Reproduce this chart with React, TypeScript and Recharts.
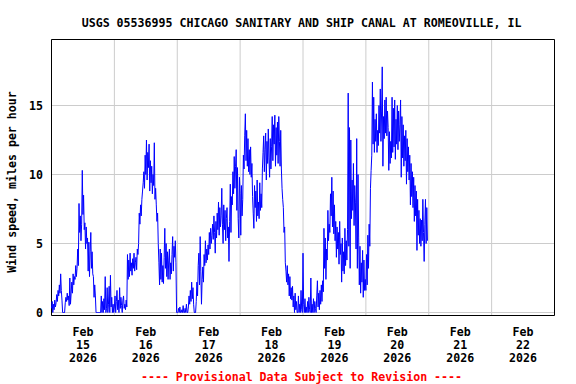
import { CartesianGrid, Line, LineChart, ReferenceArea, XAxis, YAxis } from "recharts";

const TITLE = "USGS 05536995 CHICAGO SANITARY AND SHIP CANAL AT ROMEOVILLE, IL";
const Y_LABEL = "Wind speed, miles per hour";
const FOOTER = "---- Provisional Data Subject to Revision ----";

const MONTH = "Feb";
const YEAR = "2026";
const DAY_LABELS = ["15", "16", "17", "18", "19", "20", "21", "22"];
const LABEL_HOURS = [12, 36, 60, 84, 108, 132, 156, 180];
const MIDNIGHT_HOURS = [24, 48, 72, 96, 120, 144, 168];
const Y_TICKS = [0, 5, 10, 15];
const Y_MIN = -0.2174;
const Y_MAX = 19.7826;
const X_MAX = 192;
const STEP_HOURS = 0.25; // 15-minute readings

// wind speed, mph, one value per 15 minutes from midnight
const FEB15 = [
  0.3, 0.8, 0.0, 0.6, 0.2, 0.9, 0.4, 0.7, 1.3, 0.8, 1.6, 1.2, 2.0, 1.4, 2.8, 1.6,
  0.9, 0.0, 0.0, 0.0, 0.0, 0.7, 1.1, 0.8, 1.4, 0.9, 1.2, 0.5, 2.5, 0.6, 1.4, 2.2,
  1.4, 2.8, 2.0, 2.6, 2.4, 3.4, 2.6, 3.2, 4.6, 3.4, 7.9, 5.8, 7.0, 5.2, 6.4, 10.3,
  7.1, 8.5, 6.0, 6.5, 4.6, 6.2, 5.0, 5.4, 3.0, 5.1, 2.6, 4.4, 5.8, 3.2, 4.4, 2.8,
  2.6, 1.1, 2.0, 1.2, 0.0, 0.0, 0.0, 0.0, 0.0, 0.0, 0.0, 0.0, 1.2, 0.0, 0.8, 0.0,
  1.0, 0.2, 2.6, 0.0, 0.3, 1.8, 0.0, 0.6, 1.9, 0.0, 2.7, 0.4, 1.1, 0.0, 0.6, 0.0,
];
const FEB16 = [
  0.4, 1.2, 0.0, 0.8, 1.6, 0.2, 0.9, 0.0, 1.8, 0.3, 1.1, 0.5, 0.0, 0.9, 1.2, 0.3,
  0.6, 0.2, 0.9, 0.4, 4.2, 2.4, 3.8, 2.6, 4.3, 3.0, 3.6, 2.7, 3.9, 3.2, 4.3, 3.0,
  3.6, 4.0, 3.1, 4.6, 4.2, 5.0, 7.2, 6.4, 7.8, 7.0, 8.2, 8.8, 9.4, 10.2, 9.0, 11.4,
  10.0, 12.5, 9.6, 11.6, 10.5, 12.2, 8.8, 11.0, 9.4, 10.6, 8.6, 10.0, 9.2, 12.3, 8.2, 9.0,
  7.8, 6.6, 7.2, 5.0, 3.6, 2.0, 4.6, 2.4, 4.3, 2.2, 3.4, 2.1, 4.0, 6.1, 3.2, 5.0,
  2.6, 4.4, 2.4, 3.8, 4.6, 2.4, 3.6, 2.8, 4.2, 5.5, 3.0, 4.8, 4.0, 5.2, 3.6, 0.0,
];
const FEB17 = [
  0.0, 0.0, 0.3, 0.0, 0.4, 0.0, 0.0, 0.2, 0.0, 0.5, 0.0, 0.0, 0.3, 0.0, 0.6, 0.0,
  0.0, 0.4, 1.2, 0.6, 1.6, 0.8, 2.2, 1.0, 1.8, 0.6, 0.0, 0.0, 0.0, 0.8, 2.2, 1.2,
  3.4, 4.3, 2.0, 5.5, 3.0, 0.6, 2.4, 3.3, 2.2, 4.2, 3.4, 5.2, 3.6, 4.6, 3.8, 4.9,
  4.2, 5.8, 4.6, 6.1, 5.0, 5.6, 6.4, 5.3, 7.0, 5.8, 4.3, 6.6, 5.4, 7.2, 6.0, 8.0,
  5.6, 7.6, 6.2, 7.0, 9.0, 6.4, 5.0, 7.8, 6.0, 7.4, 5.2, 6.8, 7.6, 5.4, 6.2, 3.7,
  6.6, 9.3, 5.8, 8.4, 7.8, 10.2, 8.6, 11.3, 9.0, 10.6, 11.8, 7.4, 10.5, 6.8, 5.4, 9.8,
];
const FEB18 = [
  8.6, 5.6, 9.2, 7.0, 8.2, 11.4, 10.4, 12.8, 14.4, 11.0, 13.2, 10.6, 12.6, 10.2, 11.8, 10.0,
  12.0, 9.8, 10.8, 8.4, 7.2, 6.1, 9.2, 7.6, 8.8, 6.6, 9.6, 7.0, 8.0, 6.8, 9.4, 7.4,
  8.6, 7.6, 10.4, 11.6, 12.8, 10.2, 11.8, 13.0, 9.6, 12.4, 10.8, 13.3, 11.2, 9.8, 12.6, 10.4,
  12.0, 14.2, 11.0, 13.6, 12.2, 14.3, 10.6, 13.4, 11.4, 13.8, 10.8, 14.2, 12.4, 10.6, 13.2, 10.4,
  9.0, 8.2, 7.6, 5.8, 6.2, 3.6, 3.0, 2.2, 3.4, 2.0, 2.8, 1.2, 2.6, 1.0, 1.8, 0.9,
  1.9, 0.4, 1.2, 0.0, 1.4, 0.2, 0.8, 0.0, 0.0, 1.2, 0.0, 0.6, 0.0, 1.6, 0.2, 0.0,
];
const FEB19 = [
  4.3, 0.6, 0.0, 1.0, 0.0, 0.4, 0.0, 0.8, 0.0, 1.1, 0.2, 0.0, 2.5, 0.0, 0.6, 0.0,
  1.0, 0.0, 0.8, 0.3, 0.0, 1.2, 2.3, 0.4, 1.4, 0.2, 1.6, 0.6, 2.0, 0.8, 2.3, 1.5,
  6.1, 3.2, 5.4, 2.4, 4.6, 3.8, 7.4, 5.2, 6.4, 5.8, 8.6, 7.0, 9.8, 6.2, 8.8, 5.7,
  7.8, 5.2, 6.6, 4.0, 6.2, 4.6, 5.8, 3.5, 6.6, 4.2, 5.0, 2.2, 5.4, 3.0, 4.4, 2.8,
  6.1, 3.4, 5.2, 3.8, 6.0, 15.9, 4.8, 13.4, 3.2, 12.5, 6.8, 9.6, 7.4, 10.8, 6.3, 9.2,
  8.0, 4.6, 12.6, 3.2, 10.0, 5.4, 2.0, 4.8, 1.4, 3.6, 2.2, 4.5, 1.1, 3.8, 1.6, 2.4,
];
const FEB20 = [
  1.6, 4.2, 2.0, 5.6, 3.2, 6.4, 4.8, 9.0, 10.3, 11.4, 16.7, 12.2, 15.6, 11.6, 14.0, 12.4,
  14.4, 11.6, 13.2, 12.1, 15.0, 13.0, 16.2, 12.4, 14.6, 17.8, 10.6, 14.2, 12.6, 15.4, 13.0, 15.6,
  12.8, 14.6, 13.4, 10.3, 13.1, 10.8, 12.4, 11.2, 15.6, 11.6, 14.8, 12.0, 15.4, 11.1, 14.0, 12.2,
  15.0, 11.8, 14.6, 12.4, 13.6, 15.4, 9.8, 14.2, 11.2, 13.6, 10.6, 12.8, 11.0, 13.2, 9.3, 12.6,
  10.2, 12.0, 9.6, 11.4, 7.8, 10.8, 8.4, 10.2, 7.6, 9.8, 6.6, 9.2, 7.0, 8.8, 4.5, 8.2,
  5.6, 7.4, 5.0, 6.8, 4.8, 6.7, 5.2, 8.2, 5.8, 3.7, 6.4, 8.2, 5.0, 7.6, 5.2,
];
const DAYS = [FEB15, FEB16, FEB17, FEB18, FEB19, FEB20];

const data = DAYS.flatMap((vals, d) => vals.map((v, i) => ({ t: d * 24 + i * STEP_HOURS, v })));

const FONT = "'DejaVu Sans Mono', monospace";
const FONT_SIZE = 11.6;

function DayTick(props: any) {
  const { x, y, payload } = props;
  const i = LABEL_HOURS.indexOf(payload.value);
  return (
    <g transform={`translate(${x},${y})`}>
      <text textAnchor="middle" fontFamily={FONT} fontSize={FONT_SIZE} fontWeight="bold" fill="#000">
        <tspan x={0} y={-10}>{MONTH}</tspan>
        <tspan x={0} y={3}>{DAY_LABELS[i]}</tspan>
        <tspan x={0} y={16.5}>{YEAR}</tspan>
      </text>
    </g>
  );
}

function YLabel() {
  return (
    <text
      x={11.5}
      y={182}
      transform="rotate(-90 11.5 182)"
      textAnchor="middle"
      dominantBaseline="central"
      fontFamily={FONT}
      fontSize={FONT_SIZE}
      fontWeight="bold"
      fill="#000"
    >
      {Y_LABEL}
    </text>
  );
}

export default function App() {
  return (
    <div style={{ position: "absolute", left: 0, top: 0, width: 576, height: 384, background: "#fff" }}>
      <LineChart
        width={576}
        height={384}
        data={data}
        margin={{ top: 39.5, right: 21.5, bottom: 8.5, left: 11.5 }}
      >
        <XAxis xAxisId="grid" type="number" dataKey="t" domain={[0, X_MAX]} ticks={MIDNIGHT_HOURS} hide />
        <CartesianGrid xAxisId="grid" stroke="#cccccc" strokeWidth={1} />
        <XAxis
          xAxisId="time"
          type="number"
          dataKey="t"
          domain={[0, X_MAX]}
          ticks={LABEL_HOURS}
          interval={0}
          axisLine={false}
          tickLine={false}
          tickSize={0}
          tickMargin={0}
          height={60}
          tick={<DayTick />}
        />
        <YAxis
          type="number"
          domain={[Y_MIN, Y_MAX]}
          ticks={Y_TICKS}
          allowDataOverflow
          interval={0}
          axisLine={false}
          tickLine={false}
          tickSize={0}
          tickMargin={8.5}
          width={40}
          tick={{ fontFamily: FONT, fontSize: FONT_SIZE, fontWeight: "bold", fill: "#000" }}
          label={<YLabel />}
        />
        <Line
          xAxisId="time"
          type="linear"
          dataKey="v"
          stroke="#0000ff"
          strokeWidth={1}
          dot={false}
          isAnimationActive={false}
        />
        <ReferenceArea
          xAxisId="time"
          x1={0}
          x2={X_MAX}
          y1={Y_MIN}
          y2={Y_MAX}
          fill="none"
          stroke="#000"
          strokeWidth={1}
          ifOverflow="visible"
        />
      </LineChart>
      <svg width={576} height={384} style={{ position: "absolute", left: 0, top: 0, pointerEvents: "none" }}>
        <text x={301.6} y={27} textAnchor="middle" fontFamily={FONT} fontSize={FONT_SIZE} fontWeight="bold" fill="#000">
          {TITLE}
        </text>
        <text x={301.5} y={380.5} textAnchor="middle" fontFamily={FONT} fontSize={FONT_SIZE} fontWeight="bold" fill="#ff0000">
          {FOOTER}
        </text>
      </svg>
    </div>
  );
}
